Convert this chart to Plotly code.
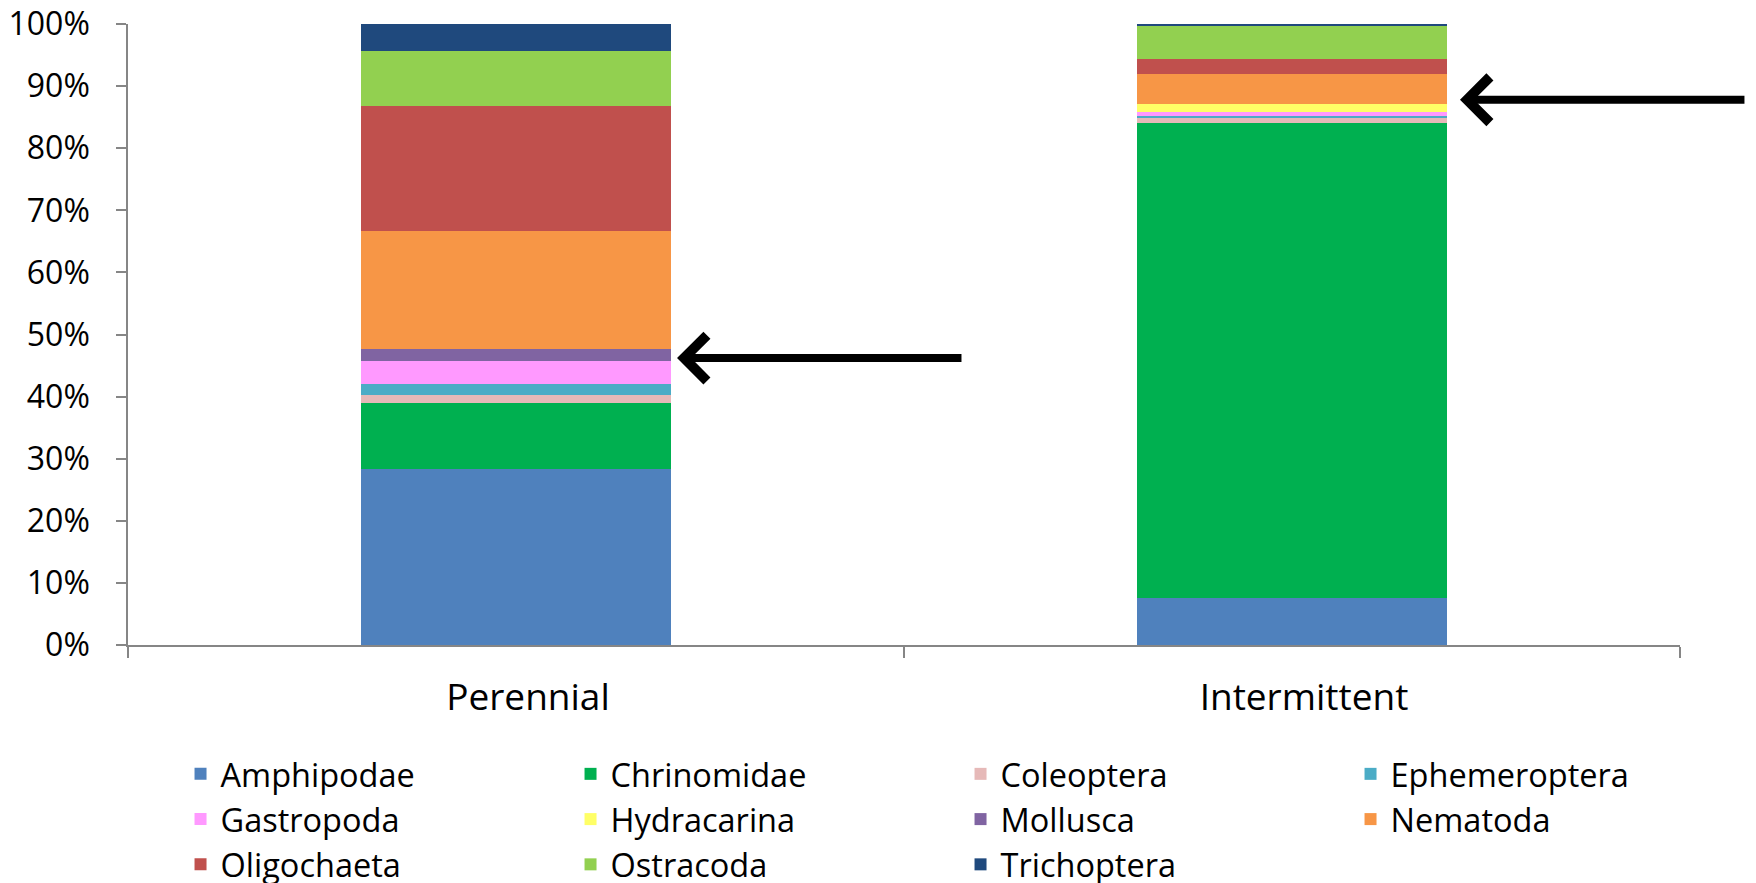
import plotly.graph_objects as go

categories = ["Perennial", "Intermittent"]
taxa = ["Amphipodae", "Chrinomidae", "Coleoptera", "Ephemeroptera", "Gastropoda",
        "Hydracarina", "Mollusca", "Nematoda", "Oligochaeta", "Ostracoda", "Trichoptera"]
perennial = [28.3, 10.6, 1.3, 1.9, 3.7, 0.0, 1.9, 18.9, 20.2, 8.8, 4.4]
intermittent = [7.5, 76.6, 0.9, 0.2, 0.7, 1.2, 0.0, 4.8, 2.5, 5.2, 0.4]
colors = ["#4F81BD", "#00B050", "#E6B9B8", "#4BACC6", "#FF99FF",
          "#FFFF66", "#8064A2", "#F79646", "#C0504D", "#92D050", "#1F497D"]
y_ticks = [0, 10, 20, 30, 40, 50, 60, 70, 80, 90, 100]
y_tick_labels = [f"{v}%" for v in y_ticks]

FONT = "Open Sans"
AXIS = "#868686"

fig = go.Figure()
for name, p, i, c in zip(taxa, perennial, intermittent, colors):
    fig.add_trace(go.Bar(name=name, x=categories, y=[p, i],
                         marker=dict(color=c, line=dict(width=0))))

# page body has an 8px default margin, so the figure is 8px smaller and offset
fig.update_layout(
    barmode="stack",
    bargap=0.6,
    width=1748, height=875,
    margin=dict(l=120, r=76, t=16, b=238, autoexpand=False),
    plot_bgcolor="white", paper_bgcolor="white",
    font=dict(family=FONT, color="black"),
    showlegend=True,
    legend=dict(orientation="h", x=1.039, xanchor="right", y=-0.163, yanchor="top",
                font=dict(family=FONT, size=32.5, color="black"),
                entrywidth=345, entrywidthmode="pixels",
                traceorder="normal", itemclick=False, itemdoubleclick=False,
                bgcolor="rgba(0,0,0,0)"),
)
fig.update_xaxes(
    range=[-0.5, 1.5],
    showline=True, linecolor=AXIS, linewidth=1.5,
    ticks="outside", tickson="boundaries", ticklen=11, tickcolor=AXIS, tickwidth=1.5,
    tickfont=dict(family=FONT, size=37, color="black"),
    showgrid=False, ticklabelstandoff=19, ticklabelshift=12, ticklabeloverflow="allow",
)
fig.update_yaxes(
    range=[0, 100], tickvals=y_ticks, ticktext=y_tick_labels,
    showline=True, linecolor=AXIS, linewidth=1.5,
    ticks="outside", ticklen=10, tickcolor=AXIS, tickwidth=1.5,
    tickfont=dict(family=FONT, size=32, color="black"),
    showgrid=False, zeroline=False, ticklabelstandoff=20, ticklabeloverflow="allow",
)

arrows = [(0.2075, 46.2, 0.576), (1.2165, 87.8, 1.585)]
for tx, ty, tail in arrows:
    fig.add_annotation(x=tx, y=ty, ax=tail, ay=ty, axref="x", ayref="y", xref="x", yref="y",
                       text="", showarrow=True, arrowhead=4, arrowsize=1.1,
                       arrowwidth=8, arrowcolor="black", standoff=0)

fig.write_html("out.html")
